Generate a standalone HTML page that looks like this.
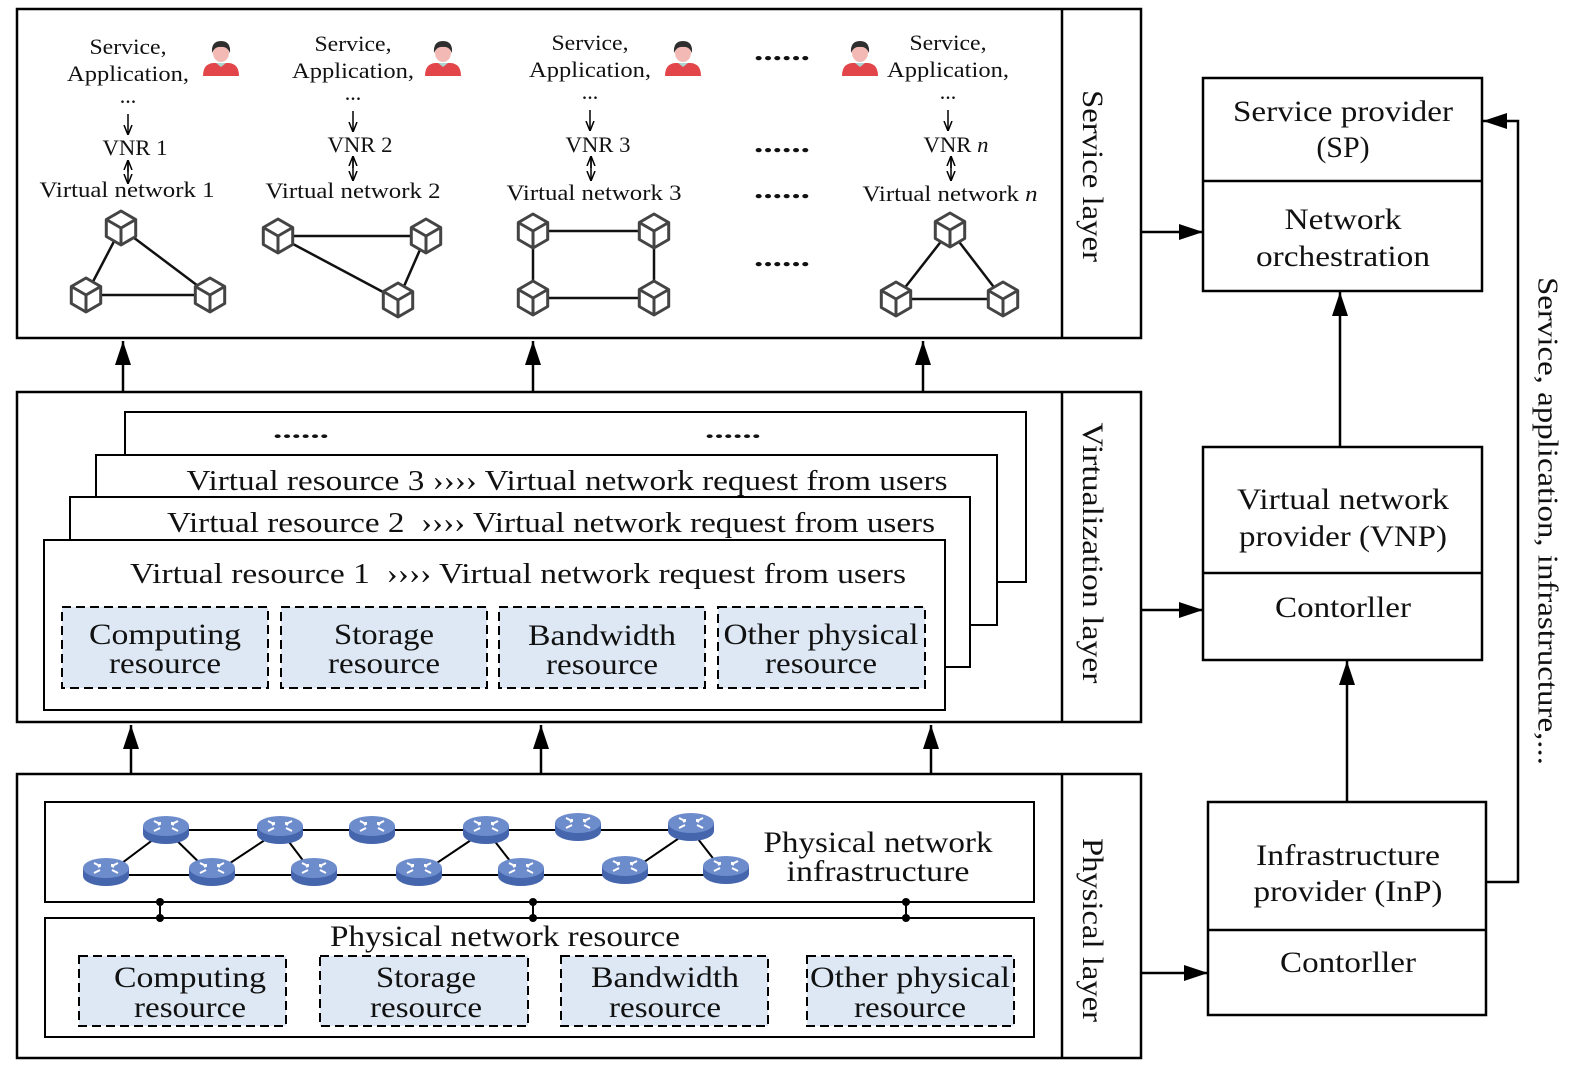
<!DOCTYPE html>
<html><head><meta charset="utf-8"><style>
html,body{margin:0;padding:0;background:#fff}
svg{display:block}
text{font-family:"Liberation Serif",serif;fill:#111}
</style></head><body>
<svg width="1593" height="1086" viewBox="0 0 1593 1086" xmlns="http://www.w3.org/2000/svg">
<defs>
<g id="cube" fill="none" stroke="#444" stroke-width="3" stroke-linejoin="round">
<polygon points="0,-17 14.7,-8.5 14.7,8.5 0,17 -14.7,8.5 -14.7,-8.5" fill="#fff"/>
<polyline points="-14.7,-8.5 0,0 14.7,-8.5"/><line x1="0" y1="0" x2="0" y2="17"/>
</g>
<g id="router">
<path d="M-23,0 L-23,8 A23,10 0 0 0 23,8 L23,0 Z" fill="#4565ad"/>
<ellipse cx="0" cy="0" rx="23" ry="10" fill="#6d8ccc"/>
<g stroke="#fff" stroke-width="2" fill="none">
<path d="M-12,-5 L-6,-2 M-6,-4 L-6,-2 L-8,-1"/>
<path d="M12,-5 L6,-2 M6,-4 L6,-2 L8,-1"/>
<path d="M-12,5 L-6,2"/><path d="M12,5 L6,2"/>
</g>
</g>
<g id="person">
<path d="M-18,18 Q-18,6 -8,5 L8,5 Q18,6 18,18 Z" fill="#e2454a"/>
<path d="M-5,5 L0,9 L5,5 Z" fill="#a9d4cf"/>
<ellipse cx="0" cy="-5" rx="8" ry="9" fill="#f2b9b5"/>
<path d="M-9,-5 Q-10,-17 0,-17 Q10,-17 9,-5 Q6,-12 0,-11 Q-6,-12 -9,-5 Z" fill="#2e2e2e"/>
</g>
<marker id="big" viewBox="0 0 10 10" refX="10" refY="5" markerWidth="24" markerHeight="16" markerUnits="userSpaceOnUse" orient="auto" preserveAspectRatio="none"><path d="M0,0 L10,5 L0,10 Z" fill="#000"/></marker>
<marker id="sm" viewBox="0 0 10 10" refX="10" refY="5" markerWidth="10" markerHeight="10" markerUnits="userSpaceOnUse" orient="auto"><path d="M0,1 L10,5 L0,9" fill="none" stroke="#000" stroke-width="1.5"/></marker>
</defs>

<g fill="none" stroke="#000" stroke-width="2.5">
<rect x="17" y="9" width="1124" height="329"/><line x1="1062" y1="9" x2="1062" y2="338"/>
<rect x="17" y="392" width="1124" height="330"/><line x1="1062" y1="392" x2="1062" y2="722"/>
<rect x="17" y="774" width="1124" height="284"/><line x1="1062" y1="774" x2="1062" y2="1058"/>
<rect x="1203" y="78" width="279" height="213"/><line x1="1203" y1="181" x2="1482" y2="181"/>
<rect x="1203" y="447" width="279" height="213"/><line x1="1203" y1="573" x2="1482" y2="573"/>
<rect x="1208" y="802" width="278" height="213"/><line x1="1208" y1="930" x2="1486" y2="930"/>
</g>

<g font-size="30" text-anchor="middle" lengthAdjust="spacingAndGlyphs">
<text transform="translate(1090,176) rotate(90)" dominant-baseline="middle" textLength="172" lengthAdjust="spacingAndGlyphs">Service layer</text>
<text transform="translate(1090,553) rotate(90)" dominant-baseline="middle" textLength="261" lengthAdjust="spacingAndGlyphs">Virtualization layer</text>
<text transform="translate(1090,930) rotate(90)" dominant-baseline="middle" textLength="184" lengthAdjust="spacingAndGlyphs">Physical layer</text>
<text transform="translate(1545,521) rotate(90)" dominant-baseline="middle" font-size="28" textLength="488" lengthAdjust="spacingAndGlyphs">Service, application, infrastructure,...</text>
<text x="1343" y="121" textLength="220" lengthAdjust="spacingAndGlyphs">Service provider</text><text x="1343" y="157">(SP)</text>
<text x="1343" y="229" textLength="117" lengthAdjust="spacingAndGlyphs">Network</text><text x="1343" y="266" textLength="174" lengthAdjust="spacingAndGlyphs">orchestration</text>
<text x="1343" y="509" textLength="212" lengthAdjust="spacingAndGlyphs">Virtual network</text><text x="1343" y="546" textLength="208" lengthAdjust="spacingAndGlyphs">provider (VNP)</text>
<text x="1343" y="617" textLength="136" lengthAdjust="spacingAndGlyphs">Contorller</text>
<text x="1348" y="865" textLength="184" lengthAdjust="spacingAndGlyphs">Infrastructure</text><text x="1348" y="901" textLength="189" lengthAdjust="spacingAndGlyphs">provider (InP)</text>
<text x="1348" y="972" textLength="136" lengthAdjust="spacingAndGlyphs">Contorller</text>
</g>

<g stroke="#000" stroke-width="2.5" fill="none">
<line x1="123" y1="392" x2="123" y2="341" marker-end="url(#big)"/>
<line x1="533" y1="392" x2="533" y2="341" marker-end="url(#big)"/>
<line x1="923" y1="392" x2="923" y2="341" marker-end="url(#big)"/>
<line x1="131" y1="774" x2="131" y2="725" marker-end="url(#big)"/>
<line x1="541" y1="774" x2="541" y2="725" marker-end="url(#big)"/>
<line x1="931" y1="774" x2="931" y2="725" marker-end="url(#big)"/>
<line x1="1141" y1="232" x2="1203" y2="232" marker-end="url(#big)"/>
<line x1="1141" y1="610" x2="1203" y2="610" marker-end="url(#big)"/>
<line x1="1141" y1="973" x2="1208" y2="973" marker-end="url(#big)"/>
<line x1="1340" y1="447" x2="1340" y2="292" marker-end="url(#big)"/>
<line x1="1347" y1="802" x2="1347" y2="661" marker-end="url(#big)"/>
<polyline points="1486,882 1518,882 1518,121 1483,121" marker-end="url(#big)"/>
</g>

<g font-size="22" text-anchor="middle">
<text x="128" y="54" textLength="77" lengthAdjust="spacingAndGlyphs">Service,</text><text x="128" y="81" textLength="122" lengthAdjust="spacingAndGlyphs">Application,</text><text x="128" y="103">...</text>
<text x="135" y="155" textLength="65" lengthAdjust="spacingAndGlyphs">VNR 1</text><text x="127" y="197" textLength="175" lengthAdjust="spacingAndGlyphs">Virtual network 1</text>
<text x="353" y="51" textLength="77" lengthAdjust="spacingAndGlyphs">Service,</text><text x="353" y="78" textLength="122" lengthAdjust="spacingAndGlyphs">Application,</text><text x="353" y="100">...</text>
<text x="360" y="152" textLength="65" lengthAdjust="spacingAndGlyphs">VNR 2</text><text x="353" y="198" textLength="175" lengthAdjust="spacingAndGlyphs">Virtual network 2</text>
<text x="590" y="50" textLength="77" lengthAdjust="spacingAndGlyphs">Service,</text><text x="590" y="77" textLength="122" lengthAdjust="spacingAndGlyphs">Application,</text><text x="590" y="99">...</text>
<text x="598" y="152" textLength="65" lengthAdjust="spacingAndGlyphs">VNR 3</text><text x="594" y="200" textLength="175" lengthAdjust="spacingAndGlyphs">Virtual network 3</text>
<text x="948" y="50" textLength="77" lengthAdjust="spacingAndGlyphs">Service,</text><text x="948" y="77" textLength="122" lengthAdjust="spacingAndGlyphs">Application,</text><text x="948" y="99">...</text>
<text x="956" y="152" textLength="65" lengthAdjust="spacingAndGlyphs">VNR <tspan font-style="italic">n</tspan></text><text x="950" y="201" textLength="175" lengthAdjust="spacingAndGlyphs">Virtual network <tspan font-style="italic">n</tspan></text>
</g>
<g font-size="26" font-weight="bold" text-anchor="middle">
<text x="782" y="60" textLength="56" lengthAdjust="spacingAndGlyphs">......</text><text x="782" y="152" textLength="56" lengthAdjust="spacingAndGlyphs">......</text><text x="782" y="198" textLength="56" lengthAdjust="spacingAndGlyphs">......</text><text x="782" y="266" textLength="56" lengthAdjust="spacingAndGlyphs">......</text>
</g>
<use href="#person" x="221" y="58"/><use href="#person" x="443" y="58"/><use href="#person" x="683" y="58"/><use href="#person" x="860" y="58"/>
<g stroke="#000" stroke-width="1.5" fill="none">
<line x1="128" y1="114" x2="128" y2="135" marker-end="url(#sm)"/>
<line x1="353" y1="111" x2="353" y2="132" marker-end="url(#sm)"/>
<line x1="590" y1="110" x2="590" y2="131" marker-end="url(#sm)"/>
<line x1="948" y1="110" x2="948" y2="131" marker-end="url(#sm)"/>
<line x1="128" y1="172" x2="128" y2="160" marker-end="url(#sm)"/><line x1="128" y1="160" x2="128" y2="184" marker-end="url(#sm)"/>
<line x1="353" y1="168" x2="353" y2="156" marker-end="url(#sm)"/><line x1="353" y1="156" x2="353" y2="181" marker-end="url(#sm)"/>
<line x1="591" y1="168" x2="591" y2="156" marker-end="url(#sm)"/><line x1="591" y1="156" x2="591" y2="181" marker-end="url(#sm)"/>
<line x1="951" y1="168" x2="951" y2="156" marker-end="url(#sm)"/><line x1="951" y1="156" x2="951" y2="181" marker-end="url(#sm)"/>
</g>
<g stroke="#111" stroke-width="2.5">
<line x1="121" y1="228" x2="86" y2="295"/><line x1="121" y1="228" x2="210" y2="295"/><line x1="86" y1="295" x2="210" y2="295"/>
<line x1="278" y1="236" x2="426" y2="236"/><line x1="278" y1="236" x2="398" y2="300"/><line x1="426" y1="236" x2="398" y2="300"/>
<line x1="533" y1="231" x2="654" y2="231"/><line x1="533" y1="298" x2="654" y2="298"/><line x1="533" y1="231" x2="533" y2="298"/><line x1="654" y1="231" x2="654" y2="298"/>
<line x1="950" y1="230" x2="896" y2="299"/><line x1="950" y1="230" x2="1003" y2="299"/><line x1="896" y1="299" x2="1003" y2="299"/>
</g>
<use href="#cube" x="121" y="228"/><use href="#cube" x="86" y="295"/><use href="#cube" x="210" y="295"/>
<use href="#cube" x="278" y="236"/><use href="#cube" x="426" y="236"/><use href="#cube" x="398" y="300"/>
<use href="#cube" x="533" y="231"/><use href="#cube" x="654" y="231"/><use href="#cube" x="533" y="298"/><use href="#cube" x="654" y="298"/>
<use href="#cube" x="950" y="230"/><use href="#cube" x="896" y="299"/><use href="#cube" x="1003" y="299"/>

<g stroke="#000" stroke-width="2" fill="#fff">
<rect x="125" y="412" width="901" height="170"/>
<rect x="96" y="455" width="901" height="170"/>
<rect x="70" y="497" width="900" height="170"/>
<rect x="44" y="540" width="901" height="170"/>
</g>
<g font-size="29" text-anchor="middle">
<text x="301" y="438" font-weight="bold" font-size="22" textLength="56" lengthAdjust="spacingAndGlyphs">......</text><text x="733" y="438" font-weight="bold" font-size="22" textLength="56" lengthAdjust="spacingAndGlyphs">......</text>
<text x="567" y="490" textLength="761" lengthAdjust="spacingAndGlyphs">Virtual resource 3 ›››› Virtual network request from users</text>
<text x="551" y="532" textLength="768" lengthAdjust="spacingAndGlyphs">Virtual resource 2 &#160;›››› Virtual network request from users</text>
<text x="518" y="583" textLength="776" lengthAdjust="spacingAndGlyphs">Virtual resource 1 &#160;›››› Virtual network request from users</text>
</g>
<g stroke="#000" stroke-width="2" stroke-dasharray="9,5" fill="#dde8f4">
<rect x="62" y="607" width="206" height="81"/><rect x="281" y="607" width="206" height="81"/>
<rect x="499" y="607" width="206" height="81"/><rect x="718" y="607" width="207" height="81"/>
<rect x="79" y="956" width="207" height="70"/><rect x="320" y="956" width="208" height="70"/>
<rect x="561" y="956" width="207" height="70"/><rect x="807" y="956" width="207" height="70"/>
</g>
<g font-size="30" text-anchor="middle">
<text x="165" y="644" textLength="152" lengthAdjust="spacingAndGlyphs">Computing</text><text x="165" y="673" textLength="112" lengthAdjust="spacingAndGlyphs">resource</text>
<text x="384" y="644" textLength="100" lengthAdjust="spacingAndGlyphs">Storage</text><text x="384" y="673" textLength="112" lengthAdjust="spacingAndGlyphs">resource</text>
<text x="602" y="645" textLength="148" lengthAdjust="spacingAndGlyphs">Bandwidth</text><text x="602" y="674" textLength="112" lengthAdjust="spacingAndGlyphs">resource</text>
<text x="821" y="644" textLength="195" lengthAdjust="spacingAndGlyphs">Other physical</text><text x="821" y="673" textLength="112" lengthAdjust="spacingAndGlyphs">resource</text>
<text x="190" y="987" textLength="152" lengthAdjust="spacingAndGlyphs">Computing</text><text x="190" y="1017" textLength="112" lengthAdjust="spacingAndGlyphs">resource</text>
<text x="426" y="987" textLength="100" lengthAdjust="spacingAndGlyphs">Storage</text><text x="426" y="1017" textLength="112" lengthAdjust="spacingAndGlyphs">resource</text>
<text x="665" y="987" textLength="148" lengthAdjust="spacingAndGlyphs">Bandwidth</text><text x="665" y="1017" textLength="112" lengthAdjust="spacingAndGlyphs">resource</text>
<text x="910" y="987" textLength="200" lengthAdjust="spacingAndGlyphs">Other physical</text><text x="910" y="1017" textLength="112" lengthAdjust="spacingAndGlyphs">resource</text>
<text x="505" y="946" textLength="350" lengthAdjust="spacingAndGlyphs">Physical network resource</text>
<text x="878" y="852" textLength="229" lengthAdjust="spacingAndGlyphs">Physical network</text><text x="878" y="881" textLength="183" lengthAdjust="spacingAndGlyphs">infrastructure</text>
</g>

<g stroke="#000" stroke-width="2" fill="none">
<rect x="45" y="802" width="989" height="100"/>
<rect x="45" y="918" width="989" height="119"/>
<line x1="160" y1="902" x2="160" y2="918"/><line x1="533" y1="902" x2="533" y2="918"/><line x1="906" y1="902" x2="906" y2="918"/>
</g>
<g fill="#000">
<circle cx="160" cy="902" r="4"/><circle cx="160" cy="918" r="4"/>
<circle cx="533" cy="902" r="4"/><circle cx="533" cy="918" r="4"/>
<circle cx="906" cy="902" r="4"/><circle cx="906" cy="918" r="4"/>
</g>
<g stroke="#000" stroke-width="2">
<line x1="166" y1="830" x2="691" y2="830"/>
<line x1="106" y1="875" x2="726" y2="875"/>
<line x1="106" y1="875" x2="166" y2="830"/><line x1="166" y1="830" x2="212" y2="875"/>
<line x1="212" y1="875" x2="280" y2="830"/><line x1="280" y1="830" x2="314" y2="875"/>
<line x1="419" y1="875" x2="486" y2="830"/><line x1="486" y1="830" x2="521" y2="875"/>
<line x1="625" y1="875" x2="691" y2="830"/><line x1="691" y1="830" x2="726" y2="875"/>
</g>
<use href="#router" x="166" y="826"/><use href="#router" x="280" y="826"/><use href="#router" x="372" y="826"/>
<use href="#router" x="486" y="826"/><use href="#router" x="578" y="823"/><use href="#router" x="691" y="823"/>
<use href="#router" x="106" y="868"/><use href="#router" x="212" y="868"/><use href="#router" x="314" y="868"/>
<use href="#router" x="419" y="868"/><use href="#router" x="521" y="868"/><use href="#router" x="625" y="866"/><use href="#router" x="726" y="866"/>
</svg>
</body></html>
